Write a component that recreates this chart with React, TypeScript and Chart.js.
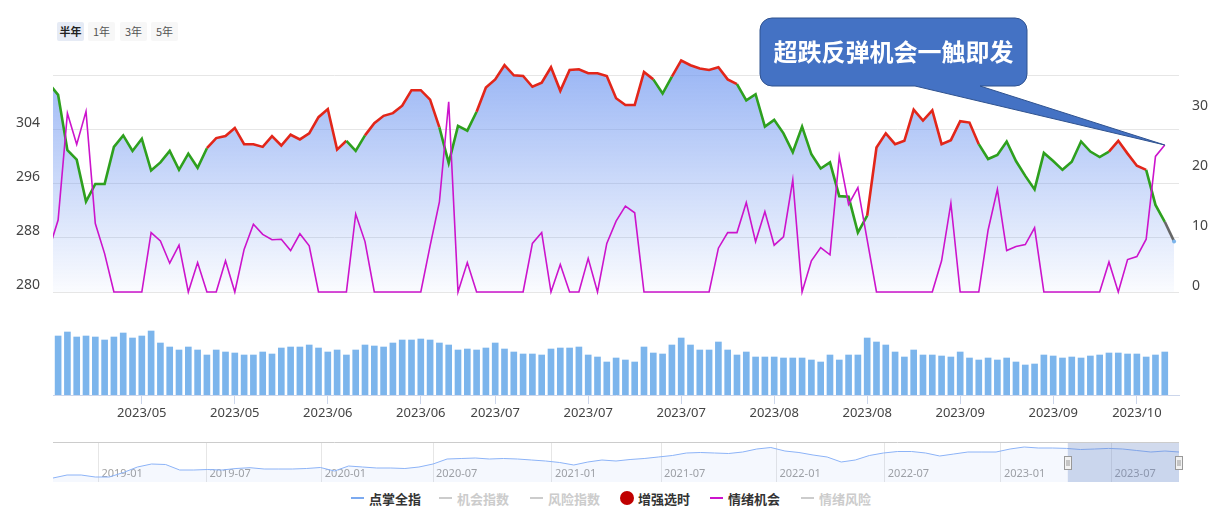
import React, { useEffect, useRef } from 'react';
import { Chart, registerables } from 'chart.js';
Chart.register(...registerables);

const FONT = '"Noto Sans", "Noto Sans CJK SC", sans-serif';
const CJK = '"Noto Sans CJK SC", "Noto Sans", sans-serif';

// 点掌全指 (left axis)
const prices = [
  310.9, 309.2, 301.0, 299.6, 293.4, 296.0, 296.0, 301.5, 303.2, 300.9,
  302.7, 298.0, 299.2, 300.9, 298.1, 300.5, 298.4, 301.3, 302.8, 303.1,
  304.3, 301.9, 301.9, 301.5, 303.1, 301.7, 303.3, 302.6, 303.5, 305.9,
  307.1, 301.1, 302.4, 300.9, 303.2, 305.0, 306.1, 306.5, 307.6, 309.9,
  309.9, 308.5, 304.4, 299.1, 304.6, 303.9, 306.7, 310.3, 311.5, 313.6,
  312.1, 312.0, 310.4, 311.0, 313.3, 309.8, 312.9, 313.0, 312.4, 312.4,
  312.0, 308.7, 307.7, 307.7, 312.6, 311.5, 309.4, 311.9, 314.3, 313.6,
  313.1, 312.9, 313.3, 311.5, 310.8, 308.4, 309.3, 304.5, 305.5, 303.5,
  300.7, 304.5, 300.4, 298.3, 299.2, 294.2, 294.1, 288.8, 291.3, 301.4,
  303.5, 301.9, 302.4, 307.0, 305.4, 306.9, 301.9, 302.5, 305.3, 305.1,
  301.9, 299.7, 300.3, 302.3, 299.4, 297.2, 295.2, 300.6, 299.4, 298.1,
  299.3, 302.3, 300.8, 300.0, 300.8, 302.4, 300.5, 298.7, 298.1, 292.9,
  290.4, 287.5,
];

// 情绪机会 (right axis)
const emotion: (number | null)[] = [
  7.0, 12.0, 29.8, 24.6, 30.1, 11.4, 6.4, 0, 0, 0,
  0, 9.9, 8.5, 4.8, 7.8, 0, 4.9, 0, 0, 5.2,
  0, 7.1, 11.3, 9.6, 8.7, 8.8, 6.9, 9.7, 7.7, 0,
  0, 0, 0, 13.0, 8.4, 0, 0, 0, 0, 0,
  0, 7.7, 15.0, 31.7, 0, 4.9, 0, 0, 0, 0,
  0, 0, 8.1, 9.9, 0, 4.6, 0, 0, 5.6, 0,
  8.1, 11.8, 14.3, 13.2, 0, 0, 0, 0, 0, 0,
  0, 0, 7.3, 9.9, 9.9, 14.9, 8.4, 13.4, 7.8, 9.2,
  18.7, 0, 5.2, 7.4, 6.2, 22.6, 14.6, 17.4, 8.7, 0,
  0, 0, 0, 0, 0, 0, 5.2, 14.8, 0, 0,
  0, 10.3, 17.1, 6.9, 7.6, 7.9, 10.7, 0, 0, 0,
  0, 0, 0, 0, 5.0, 0, 5.4, 5.9, 8.8, 22.6,
  24.5, null,
];

// 成交量
const volume: (number | null)[] = [
  60, 59, 63, 58, 59, 58, 55, 58, 62, 57,
  59, 64, 52, 48, 45, 48, 45, 40, 45, 43,
  42, 40, 40, 43, 41, 47, 48, 48, 50, 47,
  43, 45, 40, 45, 50, 49, 48, 52, 55, 55,
  56, 55, 52, 50, 45, 46, 45, 47, 52, 46,
  43, 41, 41, 40, 46, 47, 47, 48, 40, 38,
  33, 37, 35, 33, 48, 42, 41, 50, 57, 50,
  45, 45, 53, 45, 40, 43, 38, 38, 38, 37,
  37, 37, 35, 33, 40, 35, 40, 40, 57, 53,
  50, 43, 38, 45, 40, 40, 39, 38, 43, 37,
  35, 37, 35, 37, 33, 30, 31, 40, 39, 37,
  38, 37, 39, 40, 42, 42, 41, 41, 38, 40,
  43, null,
];

// 增强选时 state per segment: G = 无信号, R = 增强选时, N = 最新
const timingSignal = [
  'GGGGGGGGGGGGGGGGG', 'RRRRRRRRRRRRRRR', 'GG', 'RRRRRRRR', 'GGGG',
  'RRRRRRRRRRRRRRRRRRR', 'GG', 'RRRRRRR', 'GGGGGGGGGGGGGG', 'RRRRRRRRRRRR',
  'GGGGGGGGGGGGGG', 'RRRR', 'GG', 'N',
].join('');

const dateTickIndex = [10, 20, 30, 40, 48, 58, 68, 78, 88, 98, 108, 117];
const dateTickLabels = [
  '2023/05', '2023/05', '2023/06', '2023/06', '2023/07', '2023/07',
  '2023/07', '2023/08', '2023/08', '2023/09', '2023/09', '2023/10',
];
const leftTicks = [280, 288, 296, 304, 312];
const rightTicks = [0, 10, 20, 30];

// navigator (full history)
const navValues = [
  4, 7, 7, 5, 5, 9.5, 15, 18, 17.5, 12,
  12, 12.5, 12, 13.5, 14.3, 13, 13, 13, 13.5, 14.5,
  11, 16, 15, 14, 14, 13.5, 15, 18, 23, 23.5,
  24, 23, 23.5, 23, 22, 21, 19.5, 17, 20, 22,
  21, 22.5, 23.5, 25, 26.5, 29, 29.5, 29, 28.5, 30,
  33, 34.5, 31, 29.5, 27, 25, 20, 22, 26.5, 29,
  30.5, 30.5, 29, 26, 28, 30, 30, 30, 33, 35,
  34, 34, 33.6, 32.5, 33, 33.6, 33, 31.5, 30, 31,
  30,
];
const navTickPos = [3.23, 10.9, 19.1, 27.0, 35.45, 43.2, 51.4, 59.1, 67.35, 75.2];
const navTickLabels = [
  '2019-01', '2019-07', '2020-01', '2020-07', '2021-01',
  '2021-07', '2022-01', '2022-07', '2023-01', '2023-07',
];
const navRange = [72.1, 80];

const legendItems = [
  { name: '点掌全指', color: '#7caaf0', kind: 'line', on: true, left: 351 },
  { name: '机会指数', color: '#cccccc', kind: 'line', on: false, left: 439 },
  { name: '风险指数', color: '#cccccc', kind: 'line', on: false, left: 530 },
  { name: '增强选时', color: '#c00000', kind: 'dot', on: true, left: 620 },
  { name: '情绪机会', color: '#cc14cc', kind: 'line', on: true, left: 710 },
  { name: '情绪风险', color: '#cccccc', kind: 'line', on: false, left: 801 },
];

const calloutText = '超跌反弹机会一触即发';

const X_MIN = 0.45;
const X_MAX = 121.53;
const SEG_COLORS: Record<string, string> = { G: '#2ea01e', R: '#e2261a', N: '#666666' };
const NAV_TOP = 435;

const calloutPlugin = {
  id: 'callout',
  afterDraw(chart: any) {
    const meta = chart.getDatasetMeta(0);
    let last = -1;
    emotion.forEach((v, i) => { if (v !== null) last = i; });
    const pt = meta.data[last];
    if (!pt) return;
    const c = chart.ctx;
    const x0 = 760, y0 = 18, x1 = 1027, y1 = 86, r = 12;
    c.save();
    c.beginPath();
    c.moveTo(x0 + r, y0);
    c.lineTo(x1 - r, y0);
    c.arcTo(x1, y0, x1, y0 + r, r);
    c.lineTo(x1, y1 - r);
    c.arcTo(x1, y1, x1 - r, y1, r);
    c.lineTo(980, y1);
    c.lineTo(pt.x, pt.y);
    c.lineTo(915, y1);
    c.lineTo(x0 + r, y1);
    c.arcTo(x0, y1, x0, y1 - r, r);
    c.lineTo(x0, y0 + r);
    c.arcTo(x0, y0, x0 + r, y0, r);
    c.closePath();
    c.fillStyle = '#4472c4';
    c.fill();
    c.lineWidth = 1;
    c.strokeStyle = '#2f528f';
    c.stroke();
    c.fillStyle = '#ffffff';
    c.font = `bold 24px ${CJK}`;
    c.textAlign = 'center';
    c.textBaseline = 'middle';
    c.fillText(calloutText, (x0 + x1) / 2, 52);
    c.restore();
  },
};

const navPlugin = {
  id: 'navDecor',
  beforeDatasetsDraw(chart: any) {
    const c = chart.ctx;
    const xs = chart.scales.x;
    c.save();
    c.fillStyle = '#a0a0a0';
    c.font = `11px ${FONT}`;
    c.textAlign = 'left';
    c.textBaseline = 'middle';
    navTickPos.forEach((p, i) => {
      c.fillText(navTickLabels[i], xs.getPixelForValue(p) + 3, 474 - NAV_TOP);
    });
    c.restore();
  },
  afterDraw(chart: any) {
    const c = chart.ctx;
    const xs = chart.scales.x;
    const a = chart.chartArea;
    const l = xs.getPixelForValue(navRange[0]);
    const r = xs.getPixelForValue(navRange[1]);
    c.save();
    c.fillStyle = 'rgba(102,133,194,0.3)';
    c.fillRect(l, a.top, r - l, a.bottom - a.top);
    c.strokeStyle = '#cccccc';
    c.lineWidth = 1;
    c.beginPath();
    c.moveTo(a.left, a.top - 0.5);
    c.lineTo(a.right, a.top - 0.5);
    c.stroke();
    const hy = 456.5 - NAV_TOP;
    [l, r].forEach((hx) => {
      const x = Math.round(hx) - 3.5;
      c.fillStyle = '#f2f2f2';
      c.strokeStyle = '#999999';
      c.fillRect(x, hy, 7, 13);
      c.strokeRect(x, hy, 7, 13);
      c.beginPath();
      c.moveTo(x + 2.5, hy + 3.5);
      c.lineTo(x + 2.5, hy + 9.5);
      c.moveTo(x + 4.5, hy + 3.5);
      c.lineTo(x + 4.5, hy + 9.5);
      c.stroke();
    });
    c.restore();
  },
};

export default function App() {
  const mainRef = useRef<HTMLCanvasElement>(null);
  const volRef = useRef<HTMLCanvasElement>(null);
  const navRef = useRef<HTMLCanvasElement>(null);

  useEffect(() => {
    const priceData = prices.map((v, i) => ({ x: i, y: v }));
    const clipBox = { left: 0, right: 0, top: 5, bottom: 5 } as any;
    const main = new Chart(mainRef.current as HTMLCanvasElement, {
      type: 'line',
      data: {
        datasets: [
          {
            label: '情绪机会',
            data: emotion.map((v, i) => ({ x: i, y: v })) as any,
            yAxisID: 'y2',
            borderColor: '#cc14cc',
            borderWidth: 1.6,
            pointRadius: 0,
            fill: false,
            order: 0,
            clip: clipBox,
          },
          {
            label: '点掌全指',
            data: priceData,
            yAxisID: 'y',
            borderWidth: 2.6,
            borderColor: '#2ea01e',
            pointRadius: (ctx: any) => (ctx.dataIndex === prices.length - 1 ? 2 : 0),
            pointBackgroundColor: '#7cb5ec',
            pointBorderWidth: 0,
            fill: false,
            segment: {
              borderColor: (ctx: any) => SEG_COLORS[timingSignal[ctx.p0DataIndex]] || '#2ea01e',
            },
            order: 1,
            clip: clipBox,
          },
          {
            label: '点掌全指-area',
            data: priceData,
            yAxisID: 'y',
            borderWidth: 0,
            pointRadius: 0,
            fill: 'start',
            backgroundColor: (ctx: any) => {
              const { chart } = ctx;
              const area = chart.chartArea;
              if (!area) return 'rgba(110,150,240,0.3)';
              const g = chart.ctx.createLinearGradient(0, area.top, 0, area.bottom);
              g.addColorStop(0, 'rgba(110,150,240,0.72)');
              g.addColorStop(1, 'rgba(110,150,240,0.03)');
              return g;
            },
            order: 2,
            clip: clipBox,
          },
        ],
      },
      options: {
        animation: false,
        responsive: false,
        maintainAspectRatio: false,
        layout: { padding: { top: 56, bottom: 38, left: 0, right: 0 } },
        plugins: { legend: { display: false }, tooltip: { enabled: false } },
        scales: {
          x: { type: 'linear', min: X_MIN, max: X_MAX, display: false },
          y: {
            position: 'left',
            min: 280,
            max: 280 + 236 / 6.75,
            afterFit: (s: any) => { s.width = 53; },
            afterBuildTicks: (s: any) => { s.ticks = leftTicks.map((v) => ({ value: v })); },
            grid: { color: '#e6e6e6', drawTicks: false },
            border: { display: false },
            ticks: {
              padding: 13,
              labelOffset: -7,
              color: '#444444',
              font: { size: 14, family: FONT },
              callback: (v: any) => (v === 312 ? '' : String(v)),
            },
          },
          y2: {
            position: 'right',
            min: 0,
            max: 236 / 6,
            afterFit: (s: any) => { s.width = 47; },
            afterBuildTicks: (s: any) => { s.ticks = rightTicks.map((v) => ({ value: v })); },
            grid: { display: false, drawTicks: false },
            border: { display: false },
            ticks: {
              padding: 13,
              labelOffset: -6,
              color: '#444444',
              font: { size: 14, family: FONT },
            },
          },
        },
      },
      plugins: [calloutPlugin],
    });

    const vol = new Chart(volRef.current as HTMLCanvasElement, {
      type: 'bar',
      data: {
        datasets: [
          {
            label: '成交量',
            data: volume.map((v, i) => ({ x: i, y: v })) as any,
            backgroundColor: '#7cb5ec',
            borderWidth: 0,
            barThickness: 6,
            clip: 0 as any,
          },
        ],
      },
      options: {
        animation: false,
        responsive: false,
        maintainAspectRatio: false,
        layout: { padding: { top: 20, bottom: 0, left: 53, right: 47 } },
        plugins: { legend: { display: false }, tooltip: { enabled: false } },
        scales: {
          x: {
            type: 'linear',
            min: X_MIN,
            max: X_MAX,
            offset: false,
            afterBuildTicks: (s: any) => { s.ticks = dateTickIndex.map((v) => ({ value: v })); },
            afterFit: (s: any) => { s.height = 30; },
            grid: { drawOnChartArea: false, tickLength: 9, color: '#ccd6eb', offset: false },
            border: { color: '#ccd6eb' },
            ticks: {
              autoSkip: false,
              maxRotation: 0,
              padding: 1,
              color: '#444444',
              font: { size: 13, family: FONT },
              callback: (v: any) => dateTickLabels[dateTickIndex.indexOf(v)] ?? '',
            },
          },
          y: { display: false, min: 0, max: 75 },
        },
      },
    });

    const nav = new Chart(navRef.current as HTMLCanvasElement, {
      type: 'line',
      data: {
        datasets: [
          {
            label: 'navigator',
            data: navValues.map((v, i) => ({ x: i, y: v })),
            borderColor: '#8cb3f7',
            borderWidth: 1,
            pointRadius: 0,
            fill: 'start',
            backgroundColor: 'rgba(130,170,240,0.08)',
          },
        ],
      },
      options: {
        animation: false,
        responsive: false,
        maintainAspectRatio: false,
        layout: { padding: { top: 8, bottom: 3, left: 53, right: 47 } },
        plugins: { legend: { display: false }, tooltip: { enabled: false } },
        scales: {
          x: {
            type: 'linear',
            min: 0,
            max: navValues.length - 1,
            afterBuildTicks: (s: any) => { s.ticks = navTickPos.map((v) => ({ value: v })); },
            afterFit: (s: any) => { s.height = 0; },
            grid: { color: '#e6e6e6', drawTicks: false },
            border: { display: false },
            ticks: { display: false },
          },
          y: { display: false, min: 0, max: 39 },
        },
      },
      plugins: [navPlugin],
    });

    return () => {
      main.destroy();
      vol.destroy();
      nav.destroy();
    };
  }, []);

  const btn = (text: string, left: number, active: boolean) => (
    <div
      key={text}
      style={{
        position: 'absolute',
        left,
        top: 22,
        width: 27,
        height: 19,
        lineHeight: '19px',
        textAlign: 'center',
        fontSize: 11,
        fontFamily: CJK,
        fontWeight: active ? 'bold' : 'normal',
        color: active ? '#222' : '#555',
        background: active ? '#e6ebf5' : '#f7f7f7',
        borderRadius: 2,
      }}
    >
      {text}
    </div>
  );

  return (
    <div style={{ position: 'fixed', left: 0, top: 0, width: 1226, height: 532, background: '#ffffff', overflow: 'hidden' }}>
      {btn('半年', 57, true)}
      {btn('1年', 88, false)}
      {btn('3年', 120, false)}
      {btn('5年', 151, false)}
      <canvas ref={mainRef} width={1226} height={330} style={{ position: 'absolute', left: 0, top: 0 }} />
      <canvas ref={volRef} width={1226} height={125} style={{ position: 'absolute', left: 0, top: 300 }} />
      <canvas ref={navRef} width={1226} height={50} style={{ position: 'absolute', left: 0, top: NAV_TOP }} />
      {legendItems.map((it) => (
        <div
          key={it.name}
          style={{
            position: 'absolute',
            left: it.left,
            top: 488,
            height: 20,
            display: 'flex',
            alignItems: 'center',
            fontFamily: CJK,
            fontSize: 13,
            fontWeight: 'bold',
            color: it.on ? '#333333' : '#cccccc',
            whiteSpace: 'nowrap',
          }}
        >
          {it.kind === 'line' ? (
            <span style={{ display: 'inline-block', width: 13, height: 2, background: it.color, marginRight: 5 }} />
          ) : (
            <span style={{ display: 'inline-block', width: 14, height: 14, borderRadius: 7, background: it.color, marginRight: 4 }} />
          )}
          <span>{it.name}</span>
        </div>
      ))}
    </div>
  );
}
